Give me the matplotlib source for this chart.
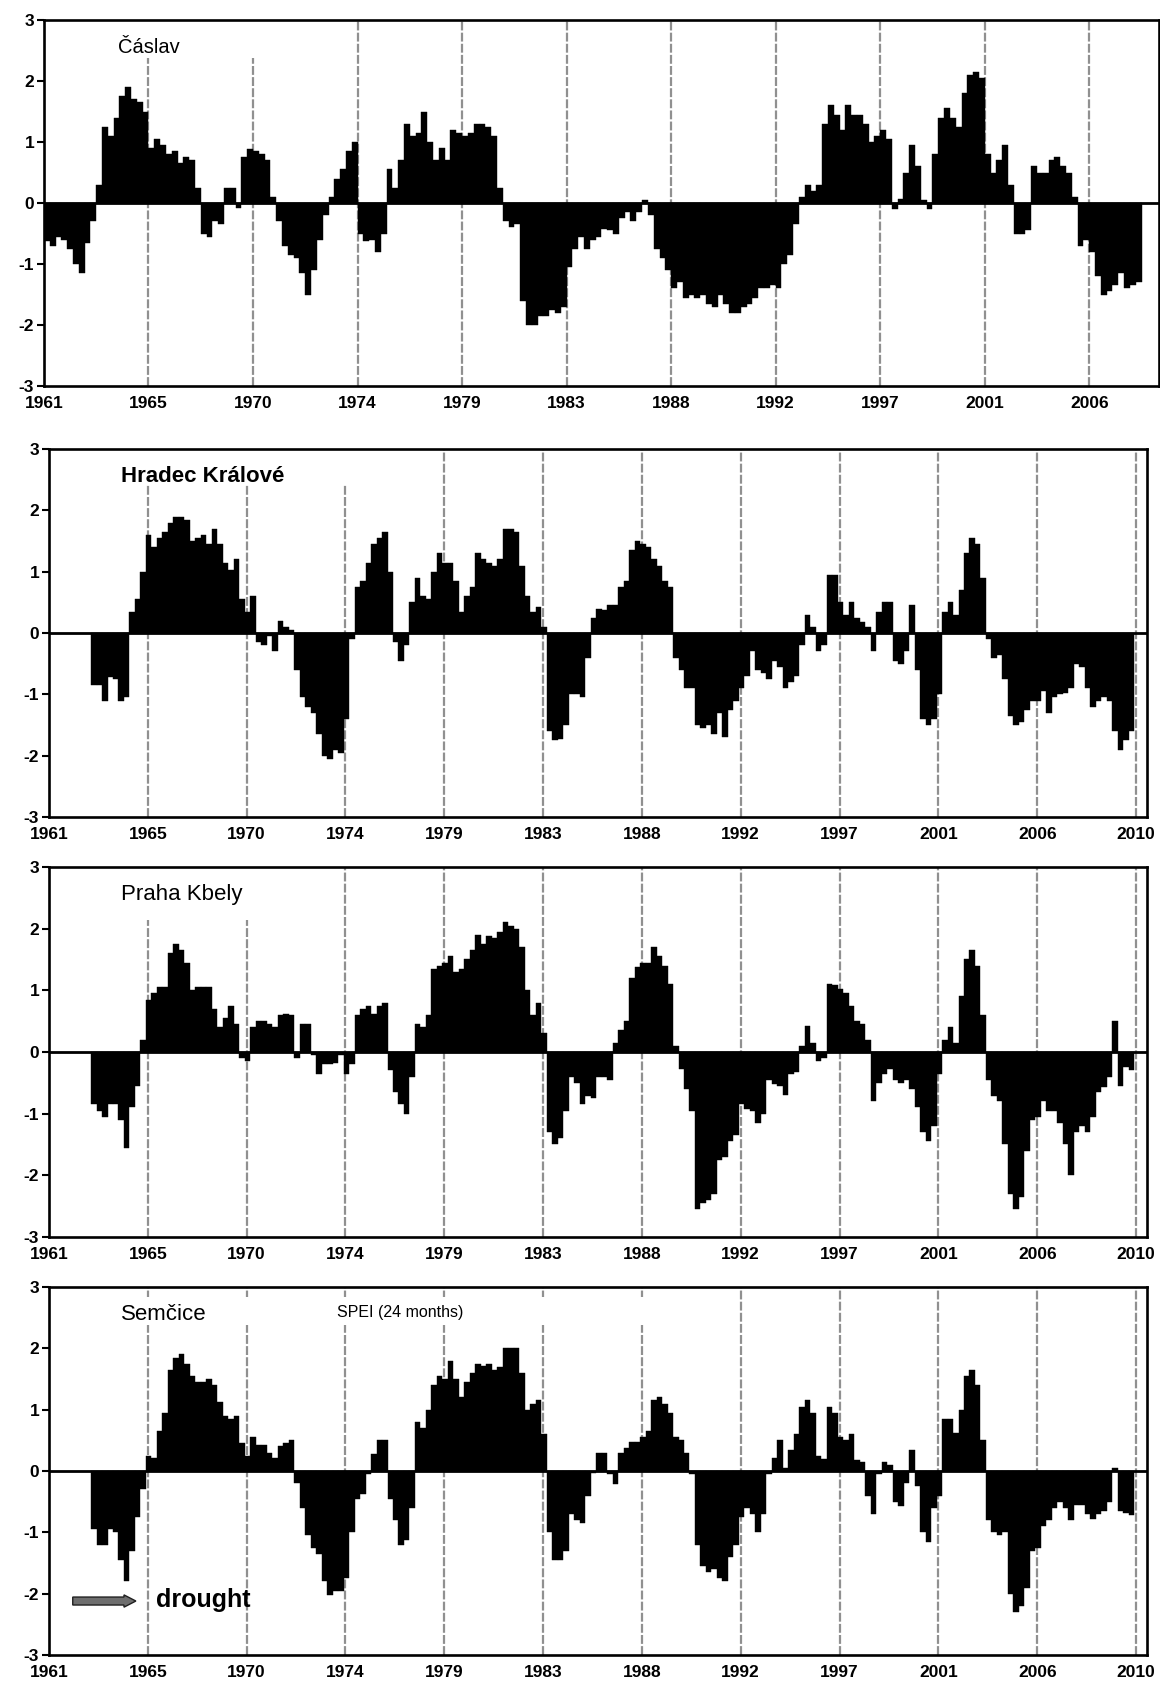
import numpy as np
import matplotlib
matplotlib.use("Agg")
import matplotlib.pyplot as plt
from matplotlib.patches import Rectangle, FancyArrow

plt.rcParams['font.family'] = ['Liberation Sans', 'DejaVu Sans']

# SPEI-24, values read per quarter (3 months), month 0 = Jan 1961
caslav_start = 0
caslav = [
    -0.63, -0.7, -0.55, -0.6, -0.75, -1.0, -1.15, -0.65, -0.3, 0.3, 1.25, 1.1,
    1.4, 1.75, 1.9, 1.7, 1.65, 1.5, 0.9, 1.05, 0.95, 0.8, 0.85, 0.65,
    0.75, 0.7, 0.25, -0.5, -0.55, -0.3, -0.35, 0.25, 0.25, -0.08, 0.75, 0.88,
    0.85, 0.8, 0.7, 0.1, -0.3, -0.7, -0.85, -0.9, -1.15, -1.5, -1.1, -0.6,
    -0.2, 0.1, 0.4, 0.55, 0.85, 1.0, -0.5, -0.62, -0.6, -0.8, -0.5, 0.55,
    0.25, 0.7, 1.3, 1.1, 1.15, 1.5, 1.0, 0.7, 0.9, 0.7, 1.2, 1.15,
    1.1, 1.15, 1.3, 1.3, 1.25, 1.1, 0.25, -0.3, -0.4, -0.35, -1.6, -2.0,
    -2.0, -1.85, -1.85, -1.75, -1.8, -1.7, -1.05, -0.75, -0.55, -0.75, -0.6, -0.55,
    -0.42, -0.45, -0.5, -0.25, -0.15, -0.3, -0.15, 0.05, -0.2, -0.75, -0.9, -1.1,
    -1.4, -1.3, -1.55, -1.5, -1.55, -1.5, -1.65, -1.7, -1.5, -1.65, -1.8, -1.8,
    -1.7, -1.65, -1.55, -1.4, -1.4, -1.35, -1.4, -1.0, -0.85, -0.35, 0.1, 0.3,
    0.2, 0.3, 1.3, 1.6, 1.45, 1.2, 1.6, 1.45, 1.45, 1.3, 1.0, 1.1,
    1.2, 1.05, -0.1, 0.07, 0.5, 0.95, 0.6, 0.05, -0.1, 0.8, 1.4, 1.55,
    1.4, 1.25, 1.8, 2.1, 2.15, 2.05, 0.8, 0.5, 0.7, 0.95, 0.3, -0.5,
    -0.5, -0.45, 0.6, 0.5, 0.5, 0.7, 0.75, 0.6, 0.5, 0.1, -0.7, -0.6,
    -0.8, -1.2, -1.5, -1.45, -1.35, -1.15, -1.4, -1.35, -1.3,
]

hradec_start = 23
hradec = [
    -0.85, -0.85, -1.1, -0.72, -0.75, -1.1, -1.05, 0.35, 0.55, 1.0, 1.6, 1.4,
    1.55, 1.65, 1.8, 1.9, 1.9, 1.85, 1.5, 1.55, 1.6, 1.45, 1.7, 1.45,
    1.15, 1.02, 1.2, 0.55, 0.35, 0.6, -0.15, -0.2, -0.05, -0.3, 0.2, 0.1,
    0.05, -0.6, -1.05, -1.2, -1.3, -1.65, -2.0, -2.05, -1.9, -1.95, -1.4, -0.1,
    0.75, 0.85, 1.15, 1.45, 1.55, 1.65, 1.0, -0.15, -0.45, -0.2, 0.5, 0.9,
    0.6, 0.55, 1.0, 1.3, 1.15, 1.15, 0.85, 0.35, 0.6, 0.75, 1.3, 1.2,
    1.15, 1.1, 1.2, 1.7, 1.7, 1.65, 1.1, 0.6, 0.35, 0.42, 0.1, -1.6,
    -1.75, -1.72, -1.5, -1.0, -1.0, -1.05, -0.4, 0.25, 0.4, 0.37, 0.45, 0.45,
    0.75, 0.85, 1.35, 1.5, 1.45, 1.4, 1.2, 1.1, 0.85, 0.75, -0.4, -0.6,
    -0.9, -0.9, -1.5, -1.55, -1.5, -1.65, -1.3, -1.7, -1.25, -1.1, -0.9, -0.7,
    -0.3, -0.6, -0.65, -0.75, -0.45, -0.55, -0.9, -0.8, -0.7, -0.2, 0.3, 0.1,
    -0.3, -0.2, 0.95, 0.95, 0.5, 0.3, 0.5, 0.25, 0.18, 0.1, -0.3, 0.35,
    0.5, 0.5, -0.45, -0.5, -0.3, 0.45, -0.6, -1.4, -1.5, -1.4, -1.0, 0.35,
    0.5, 0.3, 0.7, 1.3, 1.55, 1.45, 0.9, -0.1, -0.4, -0.35, -0.75, -1.35,
    -1.5, -1.45, -1.25, -1.1, -1.1, -0.95, -1.3, -1.05, -1.0, -0.97, -0.9, -0.5,
    -0.55, -0.9, -1.2, -1.1, -1.05, -1.1, -1.6, -1.9, -1.75, -1.6,
]

praha_start = 23
praha = [
    -0.85, -0.95, -1.05, -0.85, -0.85, -1.1, -1.55, -0.9, -0.55, 0.2, 0.85, 0.95,
    1.05, 1.05, 1.6, 1.75, 1.65, 1.45, 1.0, 1.05, 1.05, 1.05, 0.7, 0.4,
    0.55, 0.75, 0.45, -0.1, -0.15, 0.4, 0.5, 0.5, 0.45, 0.4, 0.6, 0.62,
    0.6, -0.1, 0.45, 0.45, -0.05, -0.35, -0.2, -0.2, -0.18, -0.05, -0.35, -0.2,
    0.6, 0.7, 0.75, 0.62, 0.75, 0.8, -0.3, -0.65, -0.85, -1.0, -0.4, 0.45,
    0.4, 0.6, 1.35, 1.4, 1.45, 1.55, 1.3, 1.35, 1.5, 1.65, 1.9, 1.75,
    1.88, 1.85, 1.95, 2.1, 2.05, 2.0, 1.7, 1.0, 0.6, 0.8, 0.3, -1.3,
    -1.5, -1.4, -0.95, -0.4, -0.5, -0.85, -0.72, -0.75, -0.4, -0.4, -0.45, 0.15,
    0.35, 0.5, 1.2, 1.37, 1.45, 1.45, 1.7, 1.55, 1.4, 1.1, 0.1, -0.28,
    -0.6, -0.95, -2.55, -2.45, -2.4, -2.3, -1.75, -1.7, -1.45, -1.35, -0.85, -0.92,
    -0.95, -1.15, -1.0, -0.45, -0.52, -0.55, -0.7, -0.35, -0.32, 0.1, 0.42, 0.15,
    -0.15, -0.1, 1.1, 1.08, 1.02, 0.95, 0.75, 0.5, 0.45, 0.2, -0.8, -0.5,
    -0.35, -0.28, -0.45, -0.5, -0.45, -0.6, -0.9, -1.3, -1.45, -1.2, -0.35, 0.2,
    0.4, 0.15, 0.9, 1.5, 1.65, 1.4, 0.6, -0.45, -0.72, -0.8, -1.5, -2.3,
    -2.55, -2.35, -1.6, -1.1, -1.05, -0.8, -0.95, -0.95, -1.15, -1.5, -2.0, -1.3,
    -1.2, -1.3, -1.05, -0.65, -0.57, -0.4, 0.5, -0.55, -0.25, -0.3,
]

semcice_start = 23
semcice = [
    -0.95, -1.2, -1.2, -0.95, -1.0, -1.45, -1.8, -1.3, -0.75, -0.3, 0.25, 0.22,
    0.65, 0.95, 1.65, 1.85, 1.9, 1.75, 1.55, 1.45, 1.45, 1.5, 1.4, 1.12,
    0.9, 0.85, 0.9, 0.45, 0.25, 0.55, 0.42, 0.42, 0.3, 0.22, 0.4, 0.45,
    0.5, -0.2, -0.6, -1.05, -1.25, -1.35, -1.8, -2.02, -1.95, -1.95, -1.75, -1.0,
    -0.45, -0.38, -0.05, 0.28, 0.5, 0.5, -0.45, -0.8, -1.2, -1.12, -0.6, 0.8,
    0.7, 1.0, 1.4, 1.55, 1.5, 1.8, 1.5, 1.2, 1.45, 1.6, 1.75, 1.72,
    1.75, 1.65, 1.7, 2.0, 2.0, 2.0, 1.6, 1.0, 1.1, 1.15, 0.6, -1.0,
    -1.45, -1.45, -1.3, -0.7, -0.8, -0.85, -0.4, -0.03, 0.3, 0.3, -0.05, -0.22,
    0.3, 0.38, 0.48, 0.48, 0.55, 0.65, 1.15, 1.2, 1.1, 0.95, 0.55, 0.5,
    0.3, -0.05, -1.2, -1.55, -1.65, -1.6, -1.75, -1.8, -1.4, -1.2, -0.75, -0.6,
    -0.7, -1.0, -0.7, -0.05, 0.22, 0.5, 0.05, 0.35, 0.6, 1.05, 1.15, 0.95,
    0.25, 0.2, 1.05, 0.95, 0.55, 0.5, 0.6, 0.18, 0.15, -0.4, -0.7, -0.05,
    0.15, 0.1, -0.5, -0.57, -0.2, 0.35, -0.25, -1.0, -1.15, -0.6, -0.4, 0.85,
    0.85, 0.62, 1.0, 1.55, 1.65, 1.4, 0.5, -0.8, -1.0, -1.05, -1.0, -2.0,
    -2.3, -2.2, -1.9, -1.3, -1.25, -0.9, -0.8, -0.6, -0.5, -0.6, -0.8, -0.55,
    -0.55, -0.7, -0.78, -0.7, -0.65, -0.5, 0.05, -0.65, -0.68, -0.72,
]

# category axis labelled every 54 months
label_step = 54

fig = plt.figure(figsize=(11.6, 16.85), dpi=100)

panels = [
    # name, values, start, n_months, axes rect, title style, white box (x0, x1, y0, y1)
    ("Čáslav", caslav, caslav_start, 576, [0.0379, 0.7709, 0.9612, 0.2172],
     dict(fontsize=14.5), (0.06, 0.245, 0.896, 1.0)),
    ("Hradec Králové", hradec, hradec_start, 600, [0.0422, 0.5151, 0.9466, 0.2184],
     dict(fontsize=16, fontweight='bold'), (0.06, 0.33, 0.902, 1.0)),
    ("Praha Kbely", praha, praha_start, 600, [0.0422, 0.2659, 0.9466, 0.2196],
     dict(fontsize=16), (0.06, 0.24, 0.856, 1.0)),
    ("Semčice", semcice, semcice_start, 600, [0.0422, 0.0178, 0.9466, 0.2184],
     dict(fontsize=16), (0.06, 0.55, 0.897, 0.973)),
]

for name, vals, start, nmon, rect, tstyle, box in panels:
    ax = fig.add_axes(rect)
    vals = np.array(vals)
    x = start + 3 * np.arange(len(vals))
    ax.bar(x, vals, width=3, align='edge', color='black',
           edgecolor='black', linewidth=0.3, zorder=2)
    ax.axhline(0, color='black', lw=2.0, zorder=3)

    ticks = np.arange(0, nmon, label_step)
    for m in ticks[1:]:
        ax.axvline(m, color='#909090', lw=1.6, ls=(0, (4, 1)), zorder=0.5)
    ax.add_patch(Rectangle((box[0], box[2]), box[1] - box[0], box[3] - box[2],
                           transform=ax.transAxes, facecolor='white',
                           edgecolor='none', zorder=1))

    ax.set_xlim(0, nmon)
    ax.set_ylim(-3, 3)
    ax.set_xticks(ticks)
    ax.set_xticklabels([str(1961 + m // 12) for m in ticks],
                       fontsize=12.5, fontweight='bold')
    ax.set_yticks(range(-3, 4))
    ax.set_yticklabels([str(v) for v in range(-3, 4)],
                       fontsize=12.5, fontweight='bold')
    ax.tick_params(axis='x', length=0, pad=7)
    ax.tick_params(axis='y', length=5, width=1.5, pad=2)
    for s in ax.spines.values():
        s.set_linewidth(1.9)
        s.set_zorder(4)

    ax.text(0.066, 0.925, name, transform=ax.transAxes, ha='left',
            va='center', zorder=5, **tstyle)

    if name == "Semčice":
        ax.text(0.262, 0.93, "SPEI (24 months)", transform=ax.transAxes,
                ha='left', va='center', fontsize=11.5, zorder=5)
        ax.add_patch(FancyArrow(13, -2.12, 28, 0, width=0.13, head_width=0.2,
                                head_length=6.5, length_includes_head=False,
                                facecolor='#6e6e6e', edgecolor='#202020',
                                linewidth=1.0, zorder=5))
        ax.text(58.5, -2.1, "drought", ha='left', va='center',
                fontsize=18, fontweight='bold', zorder=5)

fig.savefig("out.png", dpi=100)
